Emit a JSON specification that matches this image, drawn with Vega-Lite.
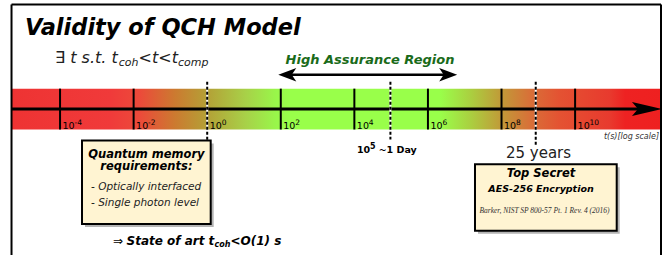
{
  "$schema": "https://vega.github.io/schema/vega-lite/v6.json",
  "width": 667,
  "height": 256,
  "autosize": {"type": "fit", "contains": "padding"},
  "padding": 0,
  "background": "white",
  "config": {"view": {"stroke": null}, "text": {"font": "DejaVu Sans", "baseline": "alphabetic"}},
  "datasets": {
    "band": [{"x": -5.306, "x2": 12.335, "y": 89, "y2": 130}],
    "frame": [
      {"x": -5.319, "x2": -5.319, "y": 4.5, "y2": 256},
      {"x": -5.319, "x2": 12.335, "y": 4.5, "y2": 4.5},
      {"x": 12.335, "x2": 12.335, "y": 4.5, "y2": 256}
    ],
    "ticks": [
      {"x": -4, "y": 89, "y2": 130}, {"x": -2, "y": 89, "y2": 130}, {"x": 2, "y": 89, "y2": 130},
      {"x": 4, "y": 89, "y2": 130}, {"x": 6, "y": 89, "y2": 130}, {"x": 8, "y": 89, "y2": 130},
      {"x": 10, "y": 89, "y2": 130}
    ],
    "ticklabels": [
      {"x": -4, "sup": "-4", "y": 130, "ysup": 125}, {"x": -2, "sup": "-2", "y": 130, "ysup": 125},
      {"x": 0, "sup": "0", "y": 130, "ysup": 125}, {"x": 2, "sup": "2", "y": 130, "ysup": 125},
      {"x": 4, "sup": "4", "y": 130, "ysup": 125}, {"x": 6, "sup": "6", "y": 130, "ysup": 125},
      {"x": 8, "sup": "8", "y": 130, "ysup": 125}, {"x": 10, "sup": "10", "y": 130, "ysup": 125}
    ],
    "axisline": [{"x": -5.306, "x2": 11.9, "y": 109.5, "y2": 109.5}],
    "axishead": [{"x": 11.954, "y": 109.5}],
    "dashes": [
      {"x": 0, "y": 82, "y2": 150},
      {"x": 4.98, "y": 82, "y2": 140},
      {"x": 8.93, "y": 82, "y2": 146}
    ],
    "harline": [{"x": 2.1, "x2": 6.6, "y": 75, "y2": 75}],
    "harleft": [{"x": 2.177, "y": 75}],
    "harright": [{"x": 6.55, "y": 75}],
    "boxes": [
      {"x": -3.403, "x2": 0.095, "y": 141, "y2": 225},
      {"x": 7.279, "x2": 11.131, "y": 165, "y2": 231.7}
    ],
    "texts": [
      {"role": "title", "t": "Validity of QCH Model", "x": -4.952, "y": 35},
      {"role": "sub_main", "t": "∃ t s.t. t", "x": -4.137, "y": 63},
      {"role": "sub_small", "t": "coh", "x": -2.403, "y": 66},
      {"role": "sub_main", "t": "<t<t", "x": -1.865, "y": 63},
      {"role": "sub_small", "t": "comp", "x": -0.794, "y": 66},
      {"role": "har", "t": "High Assurance Region", "x": 4.425, "y": 64},
      {"role": "day", "t": "10", "x": 4.072, "y": 154},
      {"role": "day_sup", "t": "5", "x": 4.425, "y": 149.5},
      {"role": "day", "t": "~1 Day", "x": 4.66, "y": 154},
      {"role": "box_head", "t": "Quantum memory", "x": -1.653, "y": 158.3},
      {"role": "box_head", "t": "requirements:", "x": -1.653, "y": 171},
      {"role": "box_item", "t": "- Optically interfaced", "x": -3.158, "y": 190.5},
      {"role": "box_item", "t": "- Single photon level", "x": -3.158, "y": 206.5},
      {"role": "soa_arrow", "t": "⇒", "x": -2.56, "y": 245.5},
      {"role": "soa_main", "t": "State of art t", "x": -2.193, "y": 245.5},
      {"role": "soa_sub", "t": "coh", "x": 0.198, "y": 248},
      {"role": "soa_main", "t": "<O(1) s", "x": 0.633, "y": 245.5},
      {"role": "ts_head", "t": "Top Secret", "x": 9.073, "y": 177.5},
      {"role": "ts_sub", "t": "AES-256 Encryption", "x": 9.073, "y": 193},
      {"role": "ts_ref", "t": "Barker, NIST SP 800-57 Pt. 1 Rev. 4 (2016)", "x": 9.168, "y": 214},
      {"role": "years", "t": "25 years", "x": 9.005, "y": 158.3},
      {"role": "axis_title", "t": "t(s)[log scale]", "x": 12.281, "y": 140}
    ]
  },
  "encoding": {
    "x": {"field": "x", "type": "quantitative", "scale": {"domain": [-5.632, 12.498], "nice": false, "zero": false}, "axis": null},
    "y": {"field": "y", "type": "quantitative", "scale": {"domain": [0, 256], "reverse": true, "nice": false, "zero": false}, "axis": null}
  },
  "layer": [
    {
      "data": {"name": "band"},
      "mark": {"type": "rect", "fill": {"gradient": "linear", "x1": 0, "y1": 0, "x2": 1, "y2": 0, "stops": [
        {"offset": 0, "color": "#ee3333"},
        {"offset": 0.151, "color": "#f03a3a"},
        {"offset": 0.197, "color": "#ec4a3a"},
        {"offset": 0.251, "color": "#cc7a30"},
        {"offset": 0.30, "color": "#b4a036"},
        {"offset": 0.359, "color": "#a8d048"},
        {"offset": 0.405, "color": "#99f54a"},
        {"offset": 0.428, "color": "#99ff4a"},
        {"offset": 0.659, "color": "#99ff4a"},
        {"offset": 0.706, "color": "#aad040"},
        {"offset": 0.752, "color": "#c09c38"},
        {"offset": 0.798, "color": "#d87038"},
        {"offset": 0.844, "color": "#e45232"},
        {"offset": 0.921, "color": "#e83a2e"},
        {"offset": 0.945, "color": "#ee2222"},
        {"offset": 1, "color": "#ee2020"}
      ]}},
      "encoding": {"x2": {"field": "x2"}, "y2": {"field": "y2"}}
    },
    {
      "data": {"name": "frame"},
      "mark": {"type": "rule", "color": "black", "strokeWidth": 2},
      "encoding": {"x2": {"field": "x2"}, "y2": {"field": "y2"}}
    },
    {
      "data": {"name": "ticks"},
      "mark": {"type": "rule", "color": "black", "strokeWidth": 2},
      "encoding": {"y2": {"field": "y2"}}
    },
    {
      "data": {"name": "axisline"},
      "mark": {"type": "rule", "color": "black", "strokeWidth": 3},
      "encoding": {"x2": {"field": "x2"}, "y2": {"field": "y2"}}
    },
    {
      "data": {"name": "axishead"},
      "mark": {"type": "point", "shape": "M1,0L-1,-0.47L-0.6,0L-1,0.47Z", "size": 900, "filled": true, "color": "black", "opacity": 1, "strokeWidth": 0}
    },
    {
      "data": {"name": "ticklabels"},
      "mark": {"type": "text", "fontSize": 9.5, "align": "left", "dx": 2.5, "color": "black"},
      "encoding": {"text": {"value": "10"}}
    },
    {
      "data": {"name": "ticklabels"},
      "mark": {"type": "text", "fontSize": 7.5, "align": "left", "dx": 14.5, "color": "black"},
      "encoding": {"y": {"field": "ysup", "type": "quantitative"}, "text": {"field": "sup"}}
    },
    {
      "data": {"name": "dashes"},
      "mark": {"type": "rule", "color": "white", "strokeWidth": 2},
      "encoding": {"y2": {"field": "y2"}}
    },
    {
      "data": {"name": "dashes"},
      "mark": {"type": "rule", "color": "black", "strokeWidth": 2, "strokeDash": [3, 2]},
      "encoding": {"y2": {"field": "y2"}}
    },
    {
      "data": {"name": "harline"},
      "mark": {"type": "rule", "color": "black", "strokeWidth": 2.5},
      "encoding": {"x2": {"field": "x2"}, "y2": {"field": "y2"}}
    },
    {
      "data": {"name": "harleft"},
      "mark": {"type": "point", "shape": "M-1,0L1,-0.75L0.5,0L1,0.75Z", "size": 324, "filled": true, "color": "black", "opacity": 1, "strokeWidth": 0}
    },
    {
      "data": {"name": "harright"},
      "mark": {"type": "point", "shape": "M1,0L-1,-0.75L-0.5,0L-1,0.75Z", "size": 324, "filled": true, "color": "black", "opacity": 1, "strokeWidth": 0}
    },
    {
      "data": {"name": "boxes"},
      "mark": {"type": "rect", "fill": "#777777", "opacity": 0.55, "xOffset": 3, "x2Offset": 3, "yOffset": 3, "y2Offset": 3},
      "encoding": {"x2": {"field": "x2"}, "y2": {"field": "y2"}}
    },
    {
      "data": {"name": "boxes"},
      "mark": {"type": "rect", "fill": "#fff4d2", "stroke": "black", "strokeWidth": 2},
      "encoding": {"x2": {"field": "x2"}, "y2": {"field": "y2"}}
    },
    {
      "data": {"name": "texts"}, "transform": [{"filter": "datum.role === 'title'"}],
      "mark": {"type": "text", "fontSize": 22.5, "fontWeight": "bold", "fontStyle": "italic", "align": "left", "color": "black"},
      "encoding": {"text": {"field": "t"}}
    },
    {
      "data": {"name": "texts"}, "transform": [{"filter": "datum.role === 'sub_main'"}],
      "mark": {"type": "text", "fontSize": 16, "fontStyle": "italic", "align": "left", "color": "#222222"},
      "encoding": {"text": {"field": "t"}}
    },
    {
      "data": {"name": "texts"}, "transform": [{"filter": "datum.role === 'sub_small'"}],
      "mark": {"type": "text", "fontSize": 11, "fontStyle": "italic", "align": "left", "color": "#222222"},
      "encoding": {"text": {"field": "t"}}
    },
    {
      "data": {"name": "texts"}, "transform": [{"filter": "datum.role === 'har'"}],
      "mark": {"type": "text", "fontSize": 13, "fontWeight": "bold", "fontStyle": "italic", "align": "center", "color": "#1a6b1a"},
      "encoding": {"text": {"field": "t"}}
    },
    {
      "data": {"name": "texts"}, "transform": [{"filter": "datum.role === 'day'"}],
      "mark": {"type": "text", "fontSize": 9.5, "fontWeight": "bold", "align": "left", "color": "black"},
      "encoding": {"text": {"field": "t"}}
    },
    {
      "data": {"name": "texts"}, "transform": [{"filter": "datum.role === 'day_sup'"}],
      "mark": {"type": "text", "fontSize": 8, "fontWeight": "bold", "align": "left", "color": "black"},
      "encoding": {"text": {"field": "t"}}
    },
    {
      "data": {"name": "texts"}, "transform": [{"filter": "datum.role === 'box_head'"}],
      "mark": {"type": "text", "fontSize": 11.5, "fontWeight": "bold", "fontStyle": "italic", "align": "center", "color": "black"},
      "encoding": {"text": {"field": "t"}}
    },
    {
      "data": {"name": "texts"}, "transform": [{"filter": "datum.role === 'box_item'"}],
      "mark": {"type": "text", "fontSize": 10.5, "fontStyle": "italic", "align": "left", "color": "#222222"},
      "encoding": {"text": {"field": "t"}}
    },
    {
      "data": {"name": "texts"}, "transform": [{"filter": "datum.role === 'soa_arrow'"}],
      "mark": {"type": "text", "fontSize": 12, "align": "left", "color": "black"},
      "encoding": {"text": {"field": "t"}}
    },
    {
      "data": {"name": "texts"}, "transform": [{"filter": "datum.role === 'soa_main'"}],
      "mark": {"type": "text", "fontSize": 12, "fontWeight": "bold", "fontStyle": "italic", "align": "left", "color": "black"},
      "encoding": {"text": {"field": "t"}}
    },
    {
      "data": {"name": "texts"}, "transform": [{"filter": "datum.role === 'soa_sub'"}],
      "mark": {"type": "text", "fontSize": 8, "fontWeight": "bold", "fontStyle": "italic", "align": "left", "color": "black"},
      "encoding": {"text": {"field": "t"}}
    },
    {
      "data": {"name": "texts"}, "transform": [{"filter": "datum.role === 'ts_head'"}],
      "mark": {"type": "text", "fontSize": 11.5, "fontWeight": "bold", "fontStyle": "italic", "align": "center", "color": "black"},
      "encoding": {"text": {"field": "t"}}
    },
    {
      "data": {"name": "texts"}, "transform": [{"filter": "datum.role === 'ts_sub'"}],
      "mark": {"type": "text", "fontSize": 9.5, "fontWeight": "bold", "fontStyle": "italic", "align": "center", "color": "black"},
      "encoding": {"text": {"field": "t"}}
    },
    {
      "data": {"name": "texts"}, "transform": [{"filter": "datum.role === 'ts_ref'"}],
      "mark": {"type": "text", "font": "Liberation Serif", "fontSize": 7.5, "fontStyle": "italic", "align": "center", "color": "#333333"},
      "encoding": {"text": {"field": "t"}}
    },
    {
      "data": {"name": "texts"}, "transform": [{"filter": "datum.role === 'years'"}],
      "mark": {"type": "text", "fontSize": 15, "align": "center", "color": "#222222"},
      "encoding": {"text": {"field": "t"}}
    },
    {
      "data": {"name": "texts"}, "transform": [{"filter": "datum.role === 'axis_title'"}],
      "mark": {"type": "text", "fontSize": 8, "fontStyle": "italic", "align": "right", "color": "#333333"},
      "encoding": {"text": {"field": "t"}}
    }
  ]
}
